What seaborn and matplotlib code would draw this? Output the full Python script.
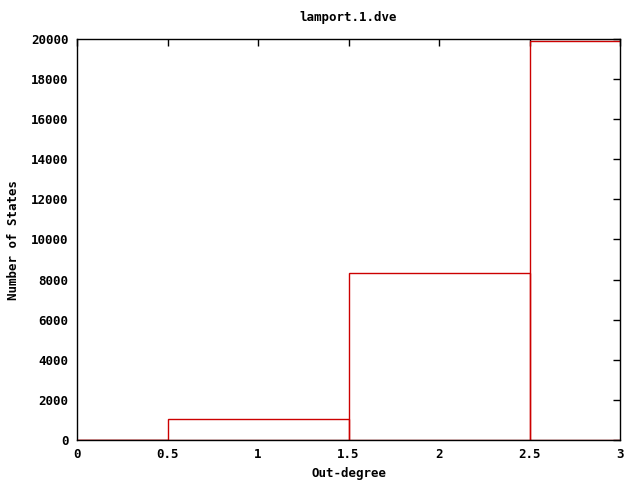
#!/usr/bin/env python3
# Out-degree histogram for lamport.1.dve, drawn in a gnuplot-like style.

import pandas as pd
import seaborn as sns
import matplotlib
matplotlib.use("Agg")
import matplotlib.pyplot as plt

# Data
outDegree = [0, 1, 2, 3]
numStates = [0, 1050, 8330, 19880]

xTicks = [0, 0.5, 1, 1.5, 2, 2.5, 3]
xTickLabels = ["0", "0.5", "1", "1.5", "2", "2.5", "3"]
yTicks = list(range(0, 20001, 2000))

sns.set_style("white")
plt.rcParams['font.family'] = ['DejaVu Sans Mono', 'DejaVu Sans']
plt.rcParams['font.weight'] = 'bold'
plt.rcParams['text.color'] = 'black'
plt.rcParams['axes.labelcolor'] = 'black'

df = pd.DataFrame({"degree": outDegree, "states": numStates})

fig = plt.figure(figsize=(6.4, 4.8), dpi=100)
ax = fig.add_axes([77/640, 40/480, (620-77)/640, (440-39)/480])

# unfilled boxes, like gnuplot "with boxes"
sns.histplot(data=df, x="degree", weights="states", discrete=True,
             element="bars", fill=False, color="#cc0000", linewidth=1.0, ax=ax)

ax.set_xlim(0, 3)
ax.set_ylim(0, 20000)
ax.set_xticks(xTicks)
ax.set_xticklabels(xTickLabels)
ax.set_yticks(yTicks)
ax.tick_params(direction="in", length=5, width=1, top=True, right=True,
               labelsize=9, pad=6, colors="black")
for spine in ax.spines.values():
  spine.set_visible(True)
  spine.set_color("black")
  spine.set_linewidth(1)
  spine.set_zorder(3)

ax.set_xlabel("Out-degree", fontsize=9, fontweight="bold", labelpad=4)
ax.set_ylabel("Number of States", fontsize=9, fontweight="bold", labelpad=8)
ax.set_title("lamport.1.dve", fontsize=9, fontweight="bold", pad=13)

fig.savefig("out.png", dpi=100)
